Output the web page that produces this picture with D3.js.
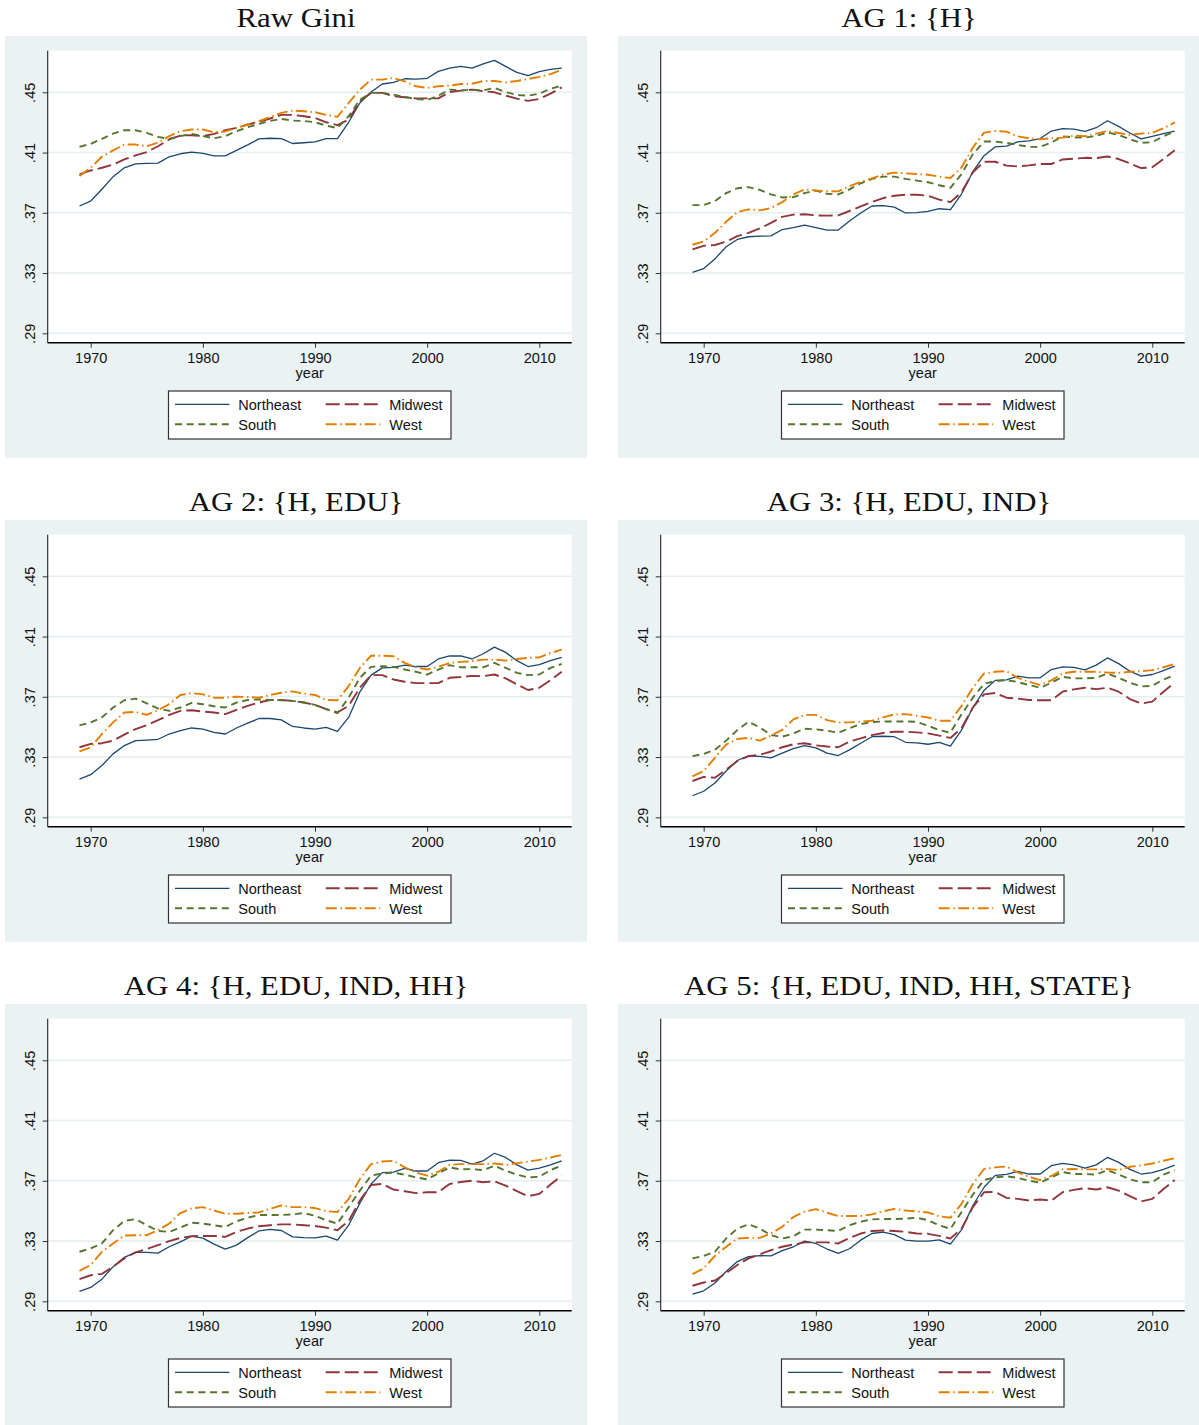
<!DOCTYPE html>
<html><head><meta charset="utf-8">
<script src="https://cdn.jsdelivr.net/npm/d3@7"></script>
<style>body{margin:0;background:#fff} svg{display:block}</style>
</head><body><svg id="c" width="1199" height="1425"></svg>
<script>
// ---------- data ----------
const years = [1969,1970,1971,1972,1973,1974,1975,1976,1977,1978,1979,1980,1981,1982,1983,1984,1985,1986,1987,1988,1989,1990,1991,1992,1993,1994,1995,1996,1997,1998,1999,2000,2001,2002,2003,2004,2005,2006,2007,2008,2009,2010,2011,2012];
const xTicks = [1970,1980,1990,2000,2010];
const yTicks = [0.29,0.33,0.37,0.41,0.45];
const yTickLabels = [".29",".33",".37",".41",".45"];
const regions = ["Northeast","Midwest","South","West"];
const titles = ["Raw Gini","AG 1: {H}","AG 2: {H, EDU}","AG 3: {H, EDU, IND}","AG 4: {H, EDU, IND, HH}","AG 5: {H, EDU, IND, HH, STATE}"];

const raw_NE = [.3745,.3778,.3856,.394,.3999,.4025,.4028,.403,.4072,.4092,.4103,.4094,.4078,.4078,.4114,.4151,.4191,.4195,.4193,.416,.4165,.4171,.4193,.4193,.4301,.4429,.4502,.4555,.4566,.459,.4588,.4593,.4639,.4661,.4672,.4661,.4688,.4712,.4672,.4632,.461,.4637,.4652,.4661];
const raw_MW = [.3955,.3981,.3999,.4021,.4054,.4081,.4103,.4142,.4187,.4213,.4215,.4209,.4224,.4248,.4264,.4286,.4304,.4326,.435,.435,.4341,.433,.4301,.4282,.4319,.444,.4496,.4496,.4474,.4467,.446,.446,.446,.4502,.4511,.4518,.4507,.45,.4478,.4458,.4443,.4456,.4491,.4533];
const raw_S  = [.4138,.4158,.4191,.4226,.4248,.4248,.4231,.4204,.4191,.4209,.4224,.4209,.4195,.4209,.4242,.4268,.429,.431,.4323,.4312,.431,.4301,.4279,.4262,.4341,.4451,.4496,.4496,.4485,.4469,.4456,.4449,.4478,.4518,.4513,.4518,.4513,.4529,.4502,.4482,.4478,.4491,.4524,.4544];
const raw_W  = [.3944,.3999,.4072,.4114,.4153,.4153,.4142,.4165,.4209,.4242,.4253,.4253,.4235,.424,.4264,.4286,.4308,.4337,.4363,.4379,.4374,.4368,.435,.4337,.4429,.4518,.4584,.4584,.4595,.4573,.454,.4529,.454,.4544,.4555,.4557,.4575,.4575,.4566,.4575,.4588,.4602,.4621,.465];

const ag1_NE = [.3304,.333,.3394,.3475,.3523,.3541,.3545,.3547,.3589,.3602,.3618,.3602,.3585,.3585,.3646,.3699,.3745,.3747,.3738,.3699,.3701,.371,.3727,.3721,.3826,.3973,.4079,.4138,.4142,.4171,.4177,.4193,.4243,.4259,.4256,.4241,.4265,.4311,.4274,.423,.4191,.4208,.4226,.4243];
const ag1_MW = [.3457,.3481,.3486,.3508,.3545,.3567,.3596,.3633,.3673,.3688,.369,.3683,.3681,.3683,.3712,.3743,.3771,.3798,.3813,.382,.382,.3813,.3787,.3771,.3837,.3969,.4039,.4039,.4013,.4008,.4015,.4024,.4024,.4054,.4059,.4065,.4063,.4074,.4057,.4028,.3997,.4002,.4057,.4116];
const ag1_S  = [.3751,.3751,.3778,.3831,.3863,.387,.3852,.3822,.3802,.3804,.3831,.3848,.3826,.3822,.3855,.3896,.3925,.394,.394,.3925,.3914,.3903,.3883,.3866,.3958,.409,.4173,.4173,.4164,.4151,.4138,.4138,.4166,.4208,.4201,.4199,.421,.4234,.4217,.4188,.4164,.4169,.4208,.4239];
const ag1_W  = [.3488,.351,.3567,.364,.3705,.3723,.3716,.3732,.3771,.3822,.3855,.3848,.3844,.3842,.3877,.3905,.3929,.3953,.3967,.3962,.3958,.3953,.394,.3931,.4002,.4133,.4232,.4243,.4239,.4208,.4195,.4188,.4195,.4199,.4212,.4208,.4226,.4243,.423,.4217,.4226,.423,.4261,.43];

const ag2_NE = [.3154,.3183,.3244,.3321,.3376,.3409,.3413,.3418,.3453,.3475,.3493,.3486,.3464,.3453,.3493,.3525,.3556,.3556,.3547,.3503,.3493,.3486,.3497,.3471,.3563,.3732,.3844,.3892,.3896,.391,.3901,.3901,.3951,.3971,.3971,.3951,.3986,.403,.3995,.394,.3901,.3914,.394,.3962];
const ag2_MW = [.3365,.3387,.3392,.3409,.3449,.3486,.3512,.3545,.358,.3607,.3611,.3602,.3596,.3585,.3613,.364,.3662,.3679,.3679,.3673,.3662,.3646,.3618,.3596,.364,.376,.3844,.3844,.3815,.38,.3791,.3791,.3791,.3826,.3831,.3839,.3837,.3848,.3822,.3782,.3745,.376,.3811,.3866];
const ag2_S  = [.351,.353,.3563,.3629,.3677,.3688,.3657,.3622,.3607,.3629,.3659,.3651,.3637,.3629,.3662,.3679,.3683,.3679,.3677,.3673,.3662,.3646,.3618,.3591,.3694,.3826,.3899,.3903,.3899,.3881,.3866,.3848,.3881,.391,.3896,.3896,.3896,.3925,.3892,.3859,.3844,.3848,.3892,.3918];
const ag2_W  = [.3337,.3365,.3453,.353,.3596,.36,.358,.3611,.3651,.3712,.3725,.3716,.3694,.3694,.3701,.3699,.3694,.3712,.3727,.3736,.3721,.3712,.3679,.3677,.3771,.3892,.3973,.3973,.3969,.3925,.3896,.3881,.3899,.3925,.3932,.3936,.3947,.3947,.394,.3951,.3958,.3962,.3991,.4013];

const ag3_NE = [.3043,.3073,.3128,.3207,.3277,.3308,.3304,.3295,.3326,.3356,.3376,.3361,.3326,.331,.3348,.3392,.3435,.3438,.3435,.3398,.3394,.3385,.3398,.3372,.348,.3629,.3743,.3809,.3813,.3837,.3826,.3826,.3881,.3899,.3896,.3879,.391,.3958,.392,.387,.3837,.3848,.3874,.3903];
const ag3_MW = [.3141,.3168,.3163,.3216,.3273,.3306,.3315,.3337,.3365,.3385,.3392,.3378,.337,.3365,.3403,.3424,.3446,.346,.3468,.3468,.3464,.3457,.3442,.3427,.3493,.3629,.3716,.3725,.3694,.3688,.3679,.3677,.3677,.3734,.3749,.376,.3751,.376,.3734,.3685,.3655,.3668,.3734,.3795];
const ag3_S  = [.3306,.3321,.3348,.3409,.3479,.3534,.3497,.3446,.3435,.3457,.3488,.3484,.3475,.3462,.3492,.3519,.3532,.3536,.3536,.3536,.3534,.3508,.3479,.3462,.3585,.3694,.3787,.3804,.3811,.3798,.3778,.376,.3793,.3833,.3822,.3822,.3826,.3855,.3826,.3793,.3769,.3773,.3815,.3844];
const ag3_W  = [.3172,.3207,.3295,.3383,.342,.3427,.3409,.3442,.348,.355,.358,.358,.3545,.353,.353,.3534,.3541,.3563,.3583,.3585,.3574,.3563,.3541,.3541,.364,.376,.3855,.3866,.387,.3826,.38,.3778,.3809,.3855,.3866,.3866,.3866,.3861,.3859,.3866,.387,.3877,.3896,.3918];

const ag4_NE = [.2966,.2992,.3047,.313,.3192,.3225,.3225,.322,.3262,.3295,.3332,.3319,.328,.3247,.3273,.3323,.3367,.3378,.337,.3328,.3323,.3321,.3332,.3306,.3405,.3552,.3679,.3754,.3758,.3782,.3765,.3765,.382,.3837,.3835,.3811,.3833,.3883,.3855,.3806,.3771,.3784,.3806,.3833];
const ag4_MW = [.3047,.3073,.3082,.313,.3185,.3225,.3247,.3273,.3299,.3321,.3332,.3334,.3334,.3328,.3361,.3383,.3398,.3405,.3411,.3411,.3405,.34,.3389,.3372,.3433,.3569,.3672,.3679,.3642,.3631,.3618,.3624,.3624,.3679,.3692,.3701,.369,.3697,.3668,.3631,.3598,.3613,.3675,.3734];
const ag4_S  = [.3229,.3251,.3284,.3372,.3433,.3446,.3405,.3367,.3361,.339,.3422,.3416,.3405,.3394,.3431,.3455,.3473,.3473,.3473,.3477,.3486,.3468,.3438,.3416,.3525,.3635,.3734,.3749,.3754,.3741,.3723,.371,.3749,.3789,.3776,.3778,.3771,.38,.3767,.3741,.3723,.3727,.3771,.3802];
const ag4_W  = [.3102,.3141,.3229,.3284,.3337,.3339,.3339,.3372,.3416,.3486,.3517,.3525,.3503,.3481,.3481,.3486,.349,.3514,.3536,.3525,.3525,.3519,.3499,.3492,.358,.3712,.3811,.3828,.3833,.3789,.3756,.3734,.376,.3806,.3811,.3811,.3811,.3815,.3806,.3817,.3828,.3839,.3855,.3872];

const ag5_NE = [.2948,.297,.3021,.3098,.3164,.3197,.3203,.3201,.3236,.3262,.33,.3284,.3247,.3218,.3249,.3306,.335,.3359,.3343,.3306,.33,.33,.3308,.328,.3376,.3536,.3657,.3736,.3743,.3763,.3745,.3745,.38,.3815,.3806,.3784,.3806,.3855,.3822,.3776,.3745,.3754,.3776,.3804];
const ag5_MW = [.3003,.3025,.3038,.3087,.3141,.3185,.3212,.324,.3262,.3277,.3291,.3291,.3291,.3284,.3321,.335,.3367,.337,.3367,.3361,.335,.3348,.3334,.3317,.3383,.3525,.3624,.3626,.3587,.358,.3569,.3576,.3569,.3624,.364,.3651,.3642,.3657,.3635,.3598,.3563,.358,.3646,.3705];
const ag5_S  = [.3185,.3201,.3229,.3317,.3383,.3411,.3383,.3339,.3317,.3332,.3376,.3376,.3372,.3367,.3405,.3429,.3444,.3446,.3446,.3449,.3455,.3438,.3405,.3381,.3493,.3609,.3705,.3723,.373,.3719,.3701,.3688,.3723,.3758,.3745,.3745,.3741,.3771,.3741,.371,.369,.369,.3741,.3771];
const ag5_W  = [.308,.3119,.3201,.3262,.3317,.3321,.3321,.335,.3394,.346,.3495,.3512,.3488,.3466,.3466,.3466,.3477,.3497,.3514,.3503,.3497,.349,.3464,.3455,.3547,.3679,.3778,.3789,.3795,.3756,.3727,.3705,.3732,.3776,.3778,.3776,.3776,.3778,.3771,.3793,.3802,.3815,.3833,.385];

const panelSeries = [
  [raw_NE, raw_MW, raw_S, raw_W],
  [ag1_NE, ag1_MW, ag1_S, ag1_W],
  [ag2_NE, ag2_MW, ag2_S, ag2_W],
  [ag3_NE, ag3_MW, ag3_S, ag3_W],
  [ag4_NE, ag4_MW, ag4_S, ag4_W],
  [ag5_NE, ag5_MW, ag5_S, ag5_W]
];

// ---------- styles ----------
const lineStyles = [
  {color:"#1a476f", dash:null,             w:1.3},
  {color:"#90353b", dash:"14,5",           w:1.9},
  {color:"#55752f", dash:"7,4.7",          w:1.9},
  {color:"#e37e00", dash:"11,3.5,1.5,3.5", w:1.9}
];
const SANS = "'Liberation Sans', Arial, Helvetica, sans-serif";
const SERIF = "'Liberation Serif', 'Times New Roman', serif";
const FS = 14.5;

const svg = d3.select("#c");
svg.append("rect").attr("width",1199).attr("height",1425).attr("fill","#fff");

const colOff = 613, rowOff = 484;
const plotL = 47.7, plotR = 571.7, plotT = 50.7, plotB = 342.7;
const x = d3.scaleLinear().domain([1970,2010]).range([90.7,539.3]);
const y = d3.scaleLinear().domain([0.29,0.45]).range([333.3,92.3]);
const line = d3.line().x((d,k)=>x(years[k])).y(d=>y(d));

panelSeries.forEach((series,i)=>{
  const c = i%2, r = Math.floor(i/2);
  const g = svg.append("g").attr("transform",`translate(${c*colOff},${r*rowOff})`);

  // title
  const t = g.append("text").attr("x",296).attr("y",27).attr("text-anchor","middle")
    .attr("font-family",SERIF).attr("font-size",28).attr("fill","#111").text(titles[i]);
  const nat = t.node().getComputedTextLength();
  t.attr("textLength", nat*1.1).attr("lengthAdjust","spacingAndGlyphs");

  // backgrounds
  g.append("rect").attr("x",5).attr("y",36).attr("width",582).attr("height",422).attr("fill","#eaf2f3");
  g.append("rect").attr("x",plotL).attr("y",plotT).attr("width",plotR-plotL).attr("height",plotB-plotT).attr("fill","#fff");

  // grid
  g.append("g").selectAll("line").data(yTicks).join("line")
    .attr("x1",plotL).attr("x2",plotR).attr("y1",d=>y(d)).attr("y2",d=>y(d))
    .attr("stroke","#e4edef").attr("stroke-width",1.6);

  // y axis
  const ya = g.append("g").attr("transform",`translate(${plotL},0)`)
    .call(d3.axisLeft(y).tickValues(yTicks).tickFormat((d,j)=>yTickLabels[j]).tickSize(5).tickSizeOuter(0));
  ya.select(".domain").remove();
  ya.selectAll(".tick line").attr("stroke","#333");
  ya.selectAll(".tick text").attr("transform","rotate(-90)").attr("x",0).attr("y",-12.5).attr("dy",0)
    .attr("text-anchor","middle").attr("font-family",SANS).attr("font-size",FS).attr("fill","#111");
  g.append("line").attr("x1",plotL).attr("x2",plotL).attr("y1",plotT).attr("y2",plotB)
    .attr("stroke","#222").attr("stroke-width",1.1);

  // x axis
  const xa = g.append("g").attr("transform",`translate(0,${plotB})`)
    .call(d3.axisBottom(x).tickValues(xTicks).tickFormat(d3.format("d")).tickSize(5).tickPadding(5).tickSizeOuter(0));
  xa.select(".domain").remove();
  xa.selectAll(".tick line").attr("stroke","#333");
  xa.selectAll(".tick text").attr("font-family",SANS).attr("font-size",FS).attr("fill","#111");
  g.append("line").attr("x1",plotL).attr("x2",plotR).attr("y1",plotB).attr("y2",plotB)
    .attr("stroke","#000").attr("stroke-width",1.5);
  g.append("text").attr("x",(plotL+plotR)/2).attr("y",378).attr("text-anchor","middle")
    .attr("font-family",SANS).attr("font-size",FS).attr("fill","#111").text("year");

  // series
  series.forEach((vals,k)=>{
    const s = lineStyles[k];
    g.append("path").datum(vals).attr("d",line).attr("fill","none")
      .attr("stroke",s.color).attr("stroke-width",s.w)
      .attr("stroke-dasharray",s.dash).attr("stroke-linejoin","round");
  });

  // legend
  const lg = g.append("g");
  lg.append("rect").attr("x",168.5).attr("y",391).attr("width",282.5).attr("height",48)
    .attr("fill","#fff").attr("stroke","#333").attr("stroke-width",1.2);
  regions.forEach((name,k)=>{
    const col = k%2, row = Math.floor(k/2);
    const lx = col===0 ? 175 : 325.7;
    const tx = col===0 ? 238.3 : 389.3;
    const ly = 404.3 + row*20;
    const s = lineStyles[k];
    lg.append("line").attr("x1",lx).attr("x2",lx+54.5).attr("y1",ly).attr("y2",ly)
      .attr("stroke",s.color).attr("stroke-width",s.w).attr("stroke-dasharray",s.dash);
    lg.append("text").attr("x",tx).attr("y",ly+5.2).attr("font-family",SANS).attr("font-size",FS)
      .attr("fill","#111").text(name);
  });
});
</script>
</body></html>
